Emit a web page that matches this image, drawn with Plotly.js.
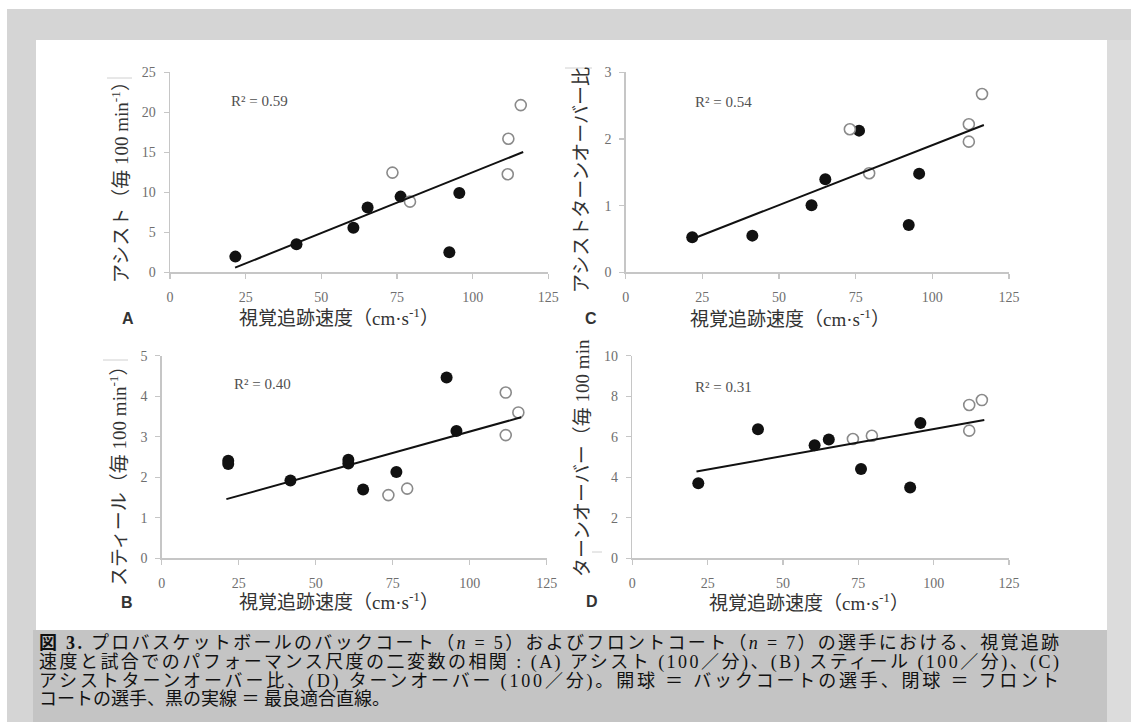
<!DOCTYPE html>
<html>
<head>
<meta charset="utf-8">
<script src="https://cdn.plot.ly/plotly-3.0.1.min.js"></script>
<style>
html,body{margin:0;padding:0;background:#fff;}
#chart{width:1131px;height:722px;}
</style>
</head>
<body>
<div id="chart"></div>
<script>
// ---------- data ----------
const xTicks = [0, 25, 50, 75, 100, 125];
const xTickLabels = ['0', '25', '50', '75', '100', '125'];

// Panel A: assists per 100 min
const aClosedX = [21.6, 41.8, 60.6, 65.3, 76.2, 92.3, 95.6];
const aClosedY = [1.96, 3.5, 5.58, 8.1, 9.46, 2.5, 9.9];
const aOpenX = [73.5, 79.3, 111.8, 111.6, 115.9];
const aOpenY = [12.46, 8.83, 16.7, 12.25, 20.9];
const aFitX = [21.5, 116.7];
const aFitY = [0.58, 15.04];
const aYTicks = [0, 5, 10, 15, 20, 25];

// Panel C: assist-to-turnover ratio
const cClosedX = [21.7, 41.3, 60.6, 65.1, 76.1, 92.3, 95.7];
const cClosedY = [0.525, 0.55, 1.005, 1.395, 2.125, 0.71, 1.48];
const cOpenX = [73.1, 79.4, 111.9, 111.9, 116.2];
const cOpenY = [2.145, 1.485, 2.22, 1.96, 2.675];
const cFitX = [21.7, 116.8];
const cFitY = [0.50, 2.21];
const cYTicks = [0, 1, 2, 3];

// Panel B: steals per 100 min
const bClosedX = [21.6, 21.6, 41.8, 60.6, 60.6, 65.4, 76.2, 92.5, 95.7];
const bClosedY = [2.41, 2.33, 1.92, 2.43, 2.34, 1.70, 2.13, 4.46, 3.14];
const bOpenX = [73.6, 79.7, 111.7, 111.7, 115.8];
const bOpenY = [1.56, 1.72, 4.09, 3.04, 3.60];
const bFitX = [21.0, 116.7];
const bFitY = [1.46, 3.48];
const bYTicks = [0, 1, 2, 3, 4, 5];

// Panel D: turnovers per 100 min
const dClosedX = [21.9, 41.7, 60.5, 65.2, 75.9, 92.2, 95.6];
const dClosedY = [3.70, 6.37, 5.58, 5.86, 4.41, 3.49, 6.68];
const dOpenX = [73.2, 79.5, 111.8, 111.8, 116.0];
const dOpenY = [5.89, 6.05, 7.57, 6.30, 7.81];
const dFitX = [21.3, 116.8];
const dFitY = [4.28, 6.83];
const dYTicks = [0, 2, 4, 6, 8, 10];

const r2Labels = ['R² = 0.59', 'R² = 0.54', 'R² = 0.40', 'R² = 0.31'];
const panelLetters = ['A', 'C', 'B', 'D'];
const xTitle = '視覚追跡速度（cm·s<sup>-1</sup>）';
const yTitles = [
  'アシスト（毎 100 min<sup>-1</sup>）',
  'アシストターンオーバー比',
  'スティール（毎 100 min<sup>-1</sup>）',
  'ターンオーバー（毎 100 min'
];
const captionLines = [
  '<b>図 3.</b> プロバスケットボールのバックコート（<i>n</i> = 5）およびフロントコート（<i>n</i> = 7）の選手における、視覚追跡',
  '速度と試合でのパフォーマンス尺度の二変数の相関 : (A) アシスト (100／分)、(B) スティール (100／分)、(C)',
  'アシストターンオーバー比、(D) ターンオーバー (100／分)。開球 ＝ バックコートの選手、閉球 ＝ フロント',
  'コートの選手、黒の実線 ＝ 最良適合直線。'
];

// ---------- layout helpers ----------
const W = 1131, H = 722;
const px = v => v / W;
const py = v => 1 - v / H;

const serif = 'Liberation Serif, "Noto Sans CJK JP", serif';
const cjk = '"Liberation Serif", "Noto Sans CJK JP", serif';

const panels = [
  {cx: aClosedX, cy: aClosedY, ox: aOpenX, oy: aOpenY, fx: aFitX, fy: aFitY, yt: aYTicks,
   dom: [170, 548.3, 72.3, 272.3]},
  {cx: cClosedX, cy: cClosedY, ox: cOpenX, oy: cOpenY, fx: cFitX, fy: cFitY, yt: cYTicks,
   dom: [625.7, 1009, 72.3, 272.3]},
  {cx: bClosedX, cy: bClosedY, ox: bOpenX, oy: bOpenY, fx: bFitX, fy: bFitY, yt: bYTicks,
   dom: [161.7, 546.7, 355.7, 558.3]},
  {cx: dClosedX, cy: dClosedY, ox: dOpenX, oy: dOpenY, fx: dFitX, fy: dFitY, yt: dYTicks,
   dom: [632.3, 1009, 355.7, 558.3]}
];

const traces = [];
const layout = {
  width: W, height: H,
  margin: {l: 0, r: 0, t: 0, b: 0},
  paper_bgcolor: '#ffffff',
  plot_bgcolor: 'rgba(0,0,0,0)',
  showlegend: false,
  shapes: [],
  annotations: []
};

// background frame
layout.shapes.push(
  {type: 'rect', xref: 'paper', yref: 'paper', x0: px(7), x1: px(1131), y0: py(722), y1: py(9),
   fillcolor: '#d5d5d5', line: {width: 0}, layer: 'below'},
  {type: 'rect', xref: 'paper', yref: 'paper', x0: px(1107), x1: px(1131), y0: py(722), y1: py(40),
   fillcolor: '#dcdcdc', line: {width: 0}, layer: 'below'},
  {type: 'rect', xref: 'paper', yref: 'paper', x0: px(36), x1: px(1107), y0: py(630), y1: py(40),
   fillcolor: '#ffffff', line: {width: 0}, layer: 'below'},
  {type: 'rect', xref: 'paper', yref: 'paper', x0: px(33), x1: px(1107), y0: py(722), y1: py(630),
   fillcolor: '#c4c4c4', line: {width: 0}, layer: 'below'}
);

// faint artefact strokes near y titles
[[107, 132, 78], [565, 592, 68], [103, 128, 360], [592, 602, 552]].forEach(s => {
  layout.shapes.push({type: 'line', xref: 'paper', yref: 'paper', x0: px(s[0]), x1: px(s[1]),
    y0: py(s[2]), y1: py(s[2]), line: {color: '#d0d0d0', width: 1}});
});

panels.forEach((p, i) => {
  const n = i === 0 ? '' : String(i + 1);
  const xa = 'x' + n, ya = 'y' + n;
  traces.push({
    type: 'scatter', mode: 'markers', x: p.cx, y: p.cy, xaxis: xa, yaxis: ya,
    marker: {color: '#111111', size: 12, line: {width: 0}}, cliponaxis: false, hoverinfo: 'skip'
  });
  traces.push({
    type: 'scatter', mode: 'markers', x: p.ox, y: p.oy, xaxis: xa, yaxis: ya,
    marker: {color: '#ffffff', size: 11, line: {color: '#8a8a8a', width: 1.6}}, cliponaxis: false, hoverinfo: 'skip'
  });
  traces.push({
    type: 'scatter', mode: 'lines', x: p.fx, y: p.fy, xaxis: xa, yaxis: ya,
    line: {color: '#111111', width: 2}, hoverinfo: 'skip'
  });
  const common = {
    showline: true, linecolor: '#c6c6c6', linewidth: 1.5,
    ticks: 'outside', ticklen: 5, tickcolor: '#c6c6c6', tickwidth: 1.2,
    showgrid: false, zeroline: false, fixedrange: true,
    tickfont: {family: serif, size: 14, color: '#6e6e6e'}
  };
  layout['xaxis' + n] = Object.assign({}, common, {
    domain: [px(p.dom[0]), px(p.dom[1])], anchor: ya,
    range: [0, 125], tickvals: xTicks, ticktext: xTickLabels, ticklabelstandoff: 6
  });
  layout['yaxis' + n] = Object.assign({}, common, {
    domain: [py(p.dom[3]), py(p.dom[2])], anchor: xa,
    range: [p.yt[0], p.yt[p.yt.length - 1]], tickvals: p.yt, ticklabelstandoff: 5
  });
});

// text positions (pixel centres)
const r2Pos = [[229, 101], [693, 102], [232, 384], [693, 387]];
const letterPos = [[128, 318], [591, 318], [127, 602], [592, 601]];
const xTitlePos = [[339, 317], [790, 318], [339, 601], [809, 602]];
const yTitlePos = [[120, 178], [581, 180], [118, 471], [582, 458]];

for (let i = 0; i < 4; i++) {
  layout.annotations.push({
    xref: 'paper', yref: 'paper', x: px(r2Pos[i][0]), y: py(r2Pos[i][1]),
    xanchor: 'left', yanchor: 'middle', showarrow: false, text: r2Labels[i],
    font: {family: serif, size: 15, color: '#505050'}
  });
  layout.annotations.push({
    xref: 'paper', yref: 'paper', x: px(letterPos[i][0]), y: py(letterPos[i][1]),
    xanchor: 'center', yanchor: 'middle', showarrow: false, text: '<b>' + panelLetters[i] + '</b>',
    font: {family: 'Liberation Sans, Arial, sans-serif', size: 16, color: '#333'}
  });
  layout.annotations.push({
    xref: 'paper', yref: 'paper', x: px(xTitlePos[i][0]), y: py(xTitlePos[i][1]),
    xanchor: 'center', yanchor: 'middle', showarrow: false, text: xTitle,
    font: {family: cjk, size: 19, color: '#333'}
  });
  layout.annotations.push({
    xref: 'paper', yref: 'paper', x: px(yTitlePos[i][0]), y: py(yTitlePos[i][1]),
    xanchor: 'center', yanchor: 'middle', showarrow: false, text: yTitles[i], textangle: -90,
    font: {family: cjk, size: 19, color: '#333'}
  });
}

const capY = [643, 662, 681, 699];
const capStart = layout.annotations.length;
captionLines.forEach((t, i) => {
  layout.annotations.push({
    xref: 'paper', yref: 'paper', x: px(37), y: py(capY[i]),
    xanchor: 'left', yanchor: 'middle', align: 'left', showarrow: false, text: t,
    font: {family: cjk, size: 18, color: '#111'}
  });
});

Plotly.newPlot('chart', traces, layout, {displayModeBar: false, staticPlot: true}).then(gd => {
  // justify the first three caption lines to the right margin of the caption block
  const target = 1057 - 37;
  for (let k = 0; k < 3; k++) {
    const g = gd.querySelector('g.annotation[data-index="' + (capStart + k) + '"] text.annotation-text');
    if (!g) continue;
    const w = g.getBBox().width;
    const n = g.getNumberOfChars();
    if (n > 1 && w < target) {
      g.style.letterSpacing = ((target - w) / (n - 1)).toFixed(3) + 'px';
    }
  }
});
</script>
</body>
</html>
